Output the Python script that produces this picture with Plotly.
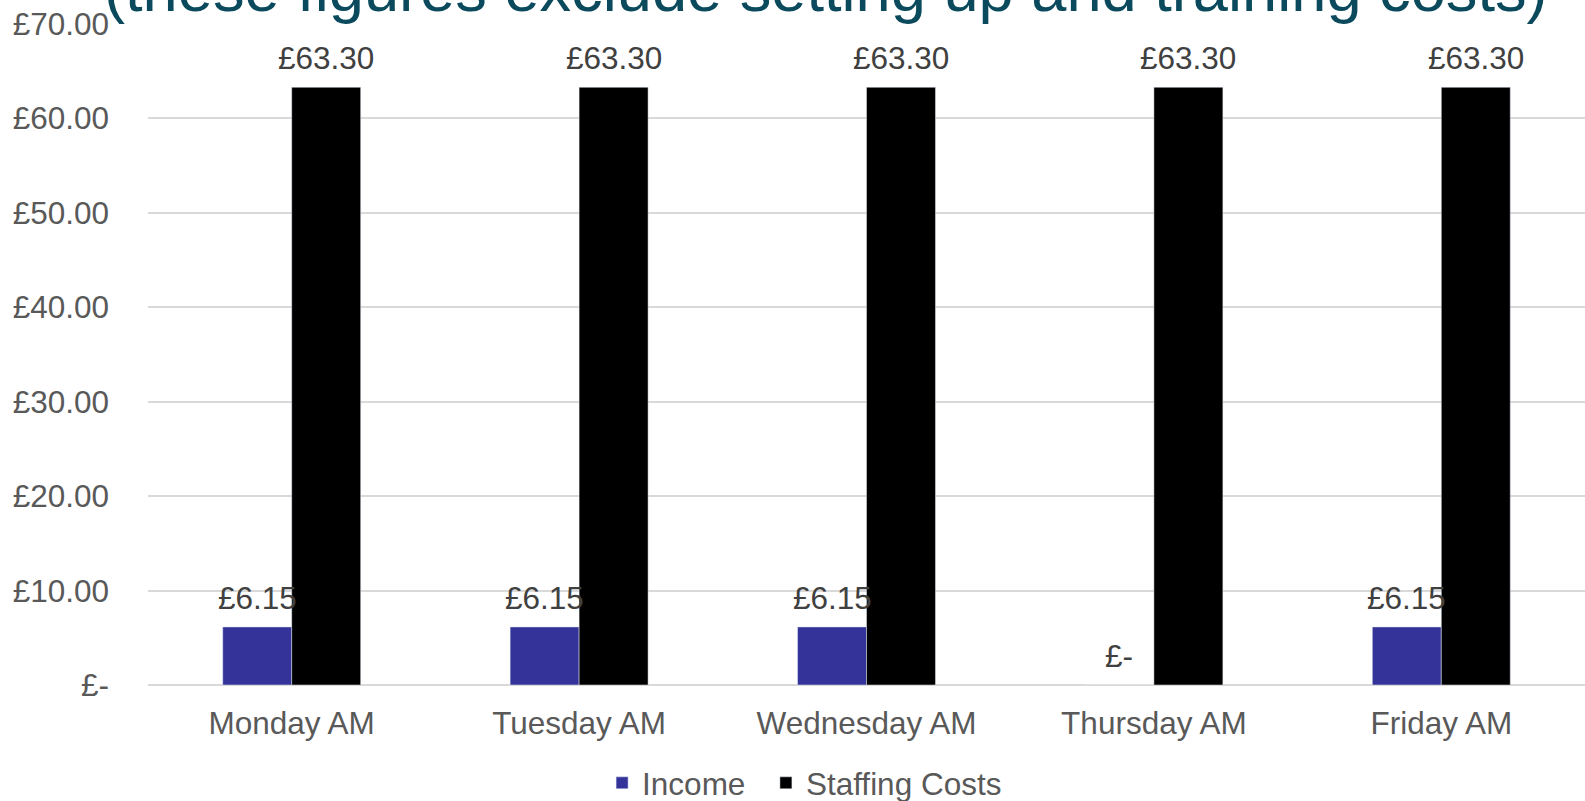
import plotly.graph_objects as go

# chart data
days = ["Monday AM", "Tuesday AM", "Wednesday AM", "Thursday AM", "Friday AM"]
income = [6.15, 6.15, 6.15, 0, 6.15]
staffing = [63.30, 63.30, 63.30, 63.30, 63.30]
y_ticks = [0, 10, 20, 30, 40, 50, 60, 70]

title_text = "(these figures exclude setting up and training costs)"

FONT = "Liberation Sans, Arial, sans-serif"
LABEL_SIZE = 31.5
BAR_HALF = 34.5  # half bar width in px, used to put labels over each bar


def money(v):
  return "£-" if v == 0 else f"£{v:,.2f}"


fig = go.Figure()
fig.add_trace(go.Bar(x=days, y=income, name="Income", marker_color="#333399",
                     legend="legend"))
fig.add_trace(go.Bar(x=days, y=staffing, name="Staffing Costs", marker_color="#000000",
                     legend="legend2"))

# value labels sit a fixed distance above each bar top
annotations = []
for series, shift in [(income, -BAR_HALF), (staffing, BAR_HALF)]:
  for d, v in zip(days, series):
    annotations.append(dict(
      x=d, y=v, xref="x", yref="y", text=money(v), showarrow=False,
      xshift=shift, yshift=29, yanchor="middle",
      font=dict(family=FONT, size=LABEL_SIZE, color="#404040")))

# title, mostly cut off by the top of the page as in the original
annotations.append(dict(
  x=0.472, y=0.997, xref="paper", yref="paper", text=title_text,
  showarrow=False, xanchor="center", yanchor="bottom",
  font=dict(family=FONT, size=63.2, color="#0B4A5C")))

legend_style = dict(orientation="h", y=-0.148, xanchor="left", yanchor="middle",
                    font=dict(size=LABEL_SIZE, color="#595959"), itemwidth=30)

fig.update_layout(
  width=1585, height=801,
  margin=dict(l=148, r=0, t=24, b=116, autoexpand=False),
  paper_bgcolor="white", plot_bgcolor="white",
  barmode="group", bargap=0.52, bargroupgap=0,
  font=dict(family=FONT, size=LABEL_SIZE, color="#595959"),
  legend=dict(x=0.316, **legend_style),
  legend2=dict(x=0.430, **legend_style),
  annotations=annotations,
  showlegend=True,
)
fig.update_xaxes(showgrid=False, showline=False, ticks="", ticklabelstandoff=16,
                 automargin=False, tickfont=dict(size=LABEL_SIZE, color="#595959"))
fig.update_yaxes(range=[0, 70], tickvals=y_ticks, ticktext=[money(v) for v in y_ticks],
                 showgrid=True, gridcolor="#D9D9D9", gridwidth=1.5,
                 zeroline=True, zerolinecolor="#D9D9D9", zerolinewidth=1.5,
                 automargin=False, ticklabelstandoff=38,
                 tickfont=dict(size=LABEL_SIZE, color="#595959"))

# drop the browser's default body margin so the chart sits flush with the page
fig.write_html("out.html", config={"displayModeBar": False},
               post_script="document.body.style.margin='0';")
